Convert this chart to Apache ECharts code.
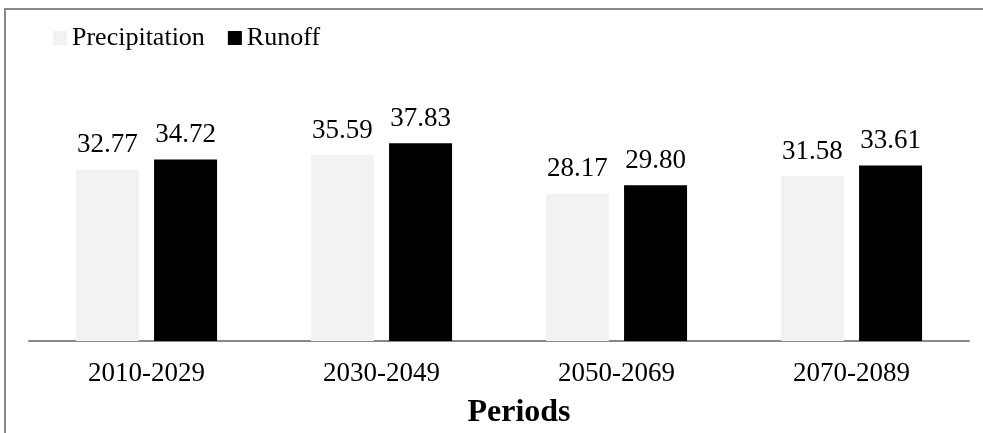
<!DOCTYPE html>
<html>
<head>
<meta charset="utf-8">
<script src="https://cdn.jsdelivr.net/npm/echarts@6/dist/echarts.min.js"></script>
<style>
  html, body { margin: 0; padding: 0; background: #fff; }
  #chart { width: 983px; height: 433px; }
</style>
</head>
<body>
<div id="chart"></div>
<script>
// periods on the x axis
var periods = ['2010-2029', '2030-2049', '2050-2069', '2070-2089'];
var precipitation = [32.77, 35.59, 28.17, 31.58];
var runoff = [34.72, 37.83, 29.80, 33.61];

var myChart = echarts.init(document.getElementById('chart'));
var font = 'Liberation Serif, Times New Roman, serif';

var option = {
  backgroundColor: '#fff',
  animation: false,
  textStyle: { fontFamily: font },
  // outer frame of the chart area (only left and top edges are in view)
  graphic: [{
    type: 'polyline',
    shape: { points: [[5, 440], [5, 9], [990, 9]] },
    style: { fill: null, stroke: '#898989', lineWidth: 2 },
    silent: true
  }],
  legend: {
    left: 48,
    top: 20,
    itemWidth: 14,
    itemHeight: 14,
    itemGap: 23,
    icon: 'rect',
    textStyle: { fontFamily: font, fontSize: 26, color: '#000' },
    data: ['Precipitation', 'Runoff']
  },
  grid: {
    left: 29,
    right: 14,
    top: 132,
    bottom: 92,
    containLabel: false
  },
  xAxis: {
    type: 'category',
    data: periods,
    name: 'Periods',
    nameLocation: 'middle',
    nameGap: 56,
    nameTextStyle: {
      fontFamily: font, fontSize: 32, fontWeight: 'bold', color: '#000',
      padding: [0, 0, 0, 40]
    },
    axisLine: { lineStyle: { color: '#898989', width: 2 } },
    axisTick: { show: false },
    axisLabel: { fontFamily: font, fontSize: 27, color: '#000', margin: 19 }
  },
  yAxis: {
    type: 'value',
    min: 0,
    max: 40,
    show: false,
    splitLine: { show: false }
  },
  series: [
    {
      name: 'Precipitation',
      type: 'bar',
      data: precipitation,
      barWidth: 63,
      barGap: '24%',
      itemStyle: { color: '#F2F2F2' },
      label: {
        show: true,
        position: 'top',
        distance: 11,
        fontFamily: font,
        fontSize: 27,
        color: '#000',
        formatter: function (p) { return p.value.toFixed(2); }
      }
    },
    {
      name: 'Runoff',
      type: 'bar',
      data: runoff,
      barWidth: 63,
      itemStyle: { color: '#000' },
      label: {
        show: true,
        position: 'top',
        distance: 11,
        fontFamily: font,
        fontSize: 27,
        color: '#000',
        formatter: function (p) { return p.value.toFixed(2); }
      }
    }
  ]
};

myChart.setOption(option);
</script>
</body>
</html>
